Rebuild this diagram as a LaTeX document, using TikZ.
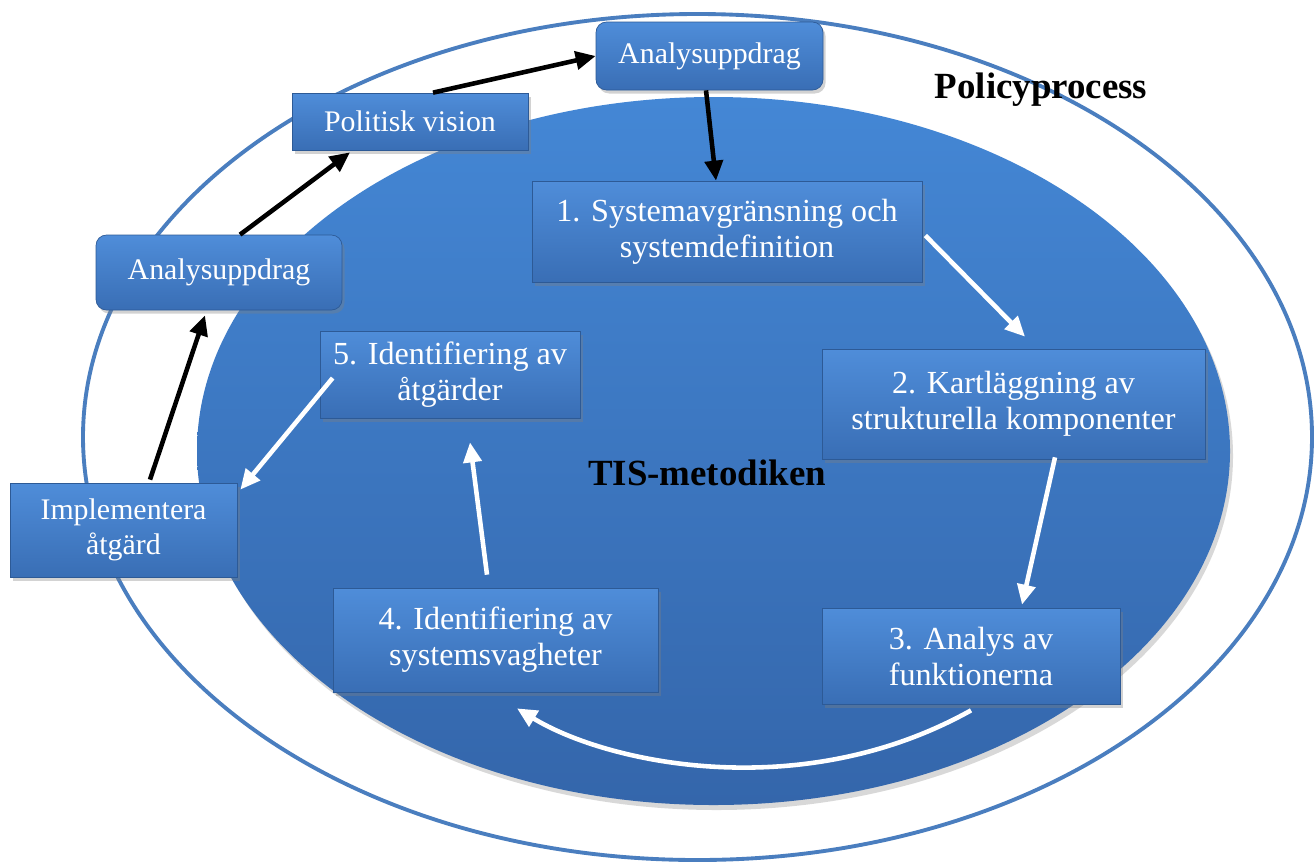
\documentclass[tikz,border=0pt]{standalone}
\usepackage{fontspec}
\setmainfont{Liberation Serif}
\usetikzlibrary{arrows.meta, shadows}
\definecolor{bord}{HTML}{4A7EBF}
\definecolor{ovalhaut}{HTML}{4487D5}
\definecolor{ovalbas}{HTML}{3466AB}
\definecolor{boitehaut}{HTML}{4F8DD9}
\definecolor{boitebas}{HTML}{396EB5}
\definecolor{trait}{HTML}{2D5A96}
\begin{document}
\begin{tikzpicture}[
  font=\fontsize{17}{20}\selectfont,
  ruta/.style={draw=trait, line width=0.4pt, top color=boitehaut, bottom color=boitebas,
               text=white, align=center, inner sep=3pt,
               drop shadow={opacity=0.35, shadow xshift=0.05cm, shadow yshift=-0.07cm}},
  rund/.style={ruta, rounded corners=6pt},
  steg/.style={ruta, font=\fontsize{18.3}{20.5}\selectfont},
  pil/.style={-{Triangle[length=4mm, width=3.6mm]}, line width=2.6pt},
  svart/.style={pil, black},
  vit/.style={pil, white},
  rubrik/.style={font=\fontsize{21}{24}\selectfont\bfseries},
]
\useasboundingbox (0,0) rectangle (26.28,-17.26);
% de två ellipserna
\draw[bord, line width=2.2pt, fill=white] (13.95,-8.74) ellipse [x radius=12.29, y radius=8.46];
\path[top color=ovalhaut, bottom color=ovalbas,
      drop shadow={opacity=0.3, shadow xshift=0.06cm, shadow yshift=-0.1cm}]
  (14.27,-9.02) ellipse [x radius=10.33, y radius=7.08];
\node[rubrik] (policy) at (20.82,-1.8) {Policyprocess};
\node[rubrik] (tis) at (14.14,-9.46) {TIS-metodiken};
% policyprocessen
\node[rund, minimum width=4.54cm, minimum height=1.36cm] (uppdrag1) at (14.19,-1.12) {Analysuppdrag};
\node[ruta, minimum width=4.72cm, minimum height=1.14cm] (vision) at (8.2,-2.43) {Politisk vision};
\node[rund, minimum width=4.92cm, minimum height=1.5cm] (uppdrag2) at (4.38,-5.45) {Analysuppdrag};
\node[ruta, minimum width=4.54cm, minimum height=1.88cm] (impl) at (2.47,-10.6) {Implementera\\åtgärd};
% metodikens fem steg
\node[steg, minimum width=7.8cm, minimum height=2.02cm] (steg1) at (14.54,-4.63)
  {1. Systemavgränsning och\\systemdefinition};
\node[steg, minimum width=7.66cm, minimum height=2.2cm] (steg2) at (20.27,-8.08)
  {2. Kartläggning av\\strukturella komponenter};
\node[steg, minimum width=5.96cm, minimum height=1.92cm] (steg3) at (19.42,-13.12)
  {3. Analys av\\funktionerna};
\node[steg, minimum width=6.5cm, minimum height=2.08cm] (steg4) at (9.91,-12.8)
  {4. Identifiering av\\systemsvagheter};
\node[steg, minimum width=5.2cm, minimum height=1.74cm] (steg5) at (9.0,-7.49)
  {5. Identifiering av\\åtgärder};
% svarta pilar
\draw[svart] ([xshift=0.53cm, yshift=0.06cm]impl.north) -- ([xshift=-0.28cm, yshift=-0.1cm]uppdrag2.south);
\draw[svart] ([xshift=0.42cm]uppdrag2.north) -- ([xshift=-1.2cm, yshift=-0.04cm]vision.south);
\draw[svart] ([xshift=0.46cm]vision.north) -- (uppdrag1.west);
\draw[svart] ([xshift=-0.07cm]uppdrag1.south) -- ([xshift=-0.22cm]steg1.north);
% vita pilar
\draw[vit] ([xshift=0.06cm, yshift=-0.08cm]steg1.east) -- ([xshift=0.23cm, yshift=0.24cm]steg2.north);
\draw[vit] ([xshift=0.83cm, yshift=0.04cm]steg2.south) -- ([xshift=1.02cm, yshift=0.06cm]steg3.north);
\draw[vit] ([yshift=-0.12cm]steg3.south) .. controls +(-3.4,-1.9) and +(1.8,-1.1)
  .. ([xshift=0.43cm, yshift=-0.32cm]steg4.south);
\draw[vit] ([xshift=-0.17cm, yshift=0.26cm]steg4.north) -- ([xshift=0.4cm, yshift=-0.48cm]steg5.south);
\draw[vit] ([xshift=0.26cm, yshift=-0.07cm]steg5.west) -- ([xshift=0.06cm, yshift=-0.14cm]impl.north east);
\end{tikzpicture}
\end{document}
